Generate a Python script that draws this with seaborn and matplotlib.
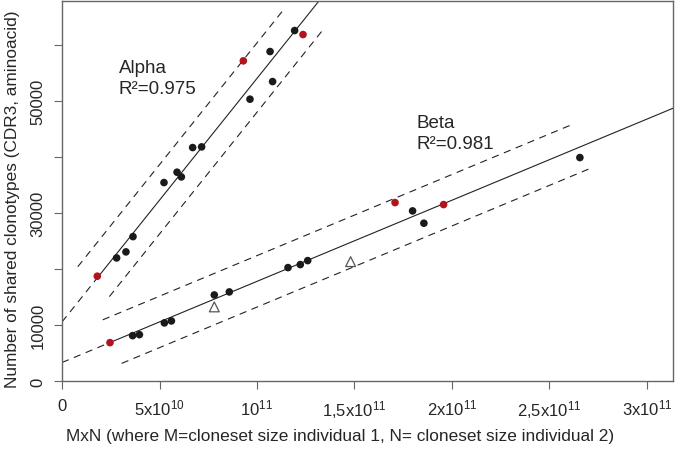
import numpy as np
import pandas as pd
import matplotlib
matplotlib.use("Agg")
import matplotlib.pyplot as plt
import seaborn as sns

# ---- data (x in units of 1e10) ----
alpha_black_x = [11.93, 10.67, 10.80, 9.64, 6.70, 7.16, 5.90, 6.12, 5.23, 3.64, 3.28, 2.80]
alpha_black_y = [62665, 58910, 53540, 50390, 41740, 41860, 37330, 36490, 35480, 25810, 23080, 22000]
alpha_red_x = [9.30, 12.36, 1.81]
alpha_red_y = [57245, 61950, 18730]

beta_black_x = [3.62, 3.97, 5.25, 5.61, 7.81, 8.58, 11.59, 12.22, 12.60, 17.98, 18.56, 26.56]
beta_black_y = [8100, 8280, 10380, 10730, 15380, 15920, 20270, 20810, 21520, 30410, 28210, 39950]
beta_red_x = [2.46, 17.08, 19.57]
beta_red_y = [6850, 31900, 31540]
beta_tri_x = [7.81, 14.80]
beta_tri_y = [13240, 21340]

# fitted lines: intercept, slope (per 1e10), start of solid part
alpha_fit = (10550, 4356.0, 1.81)
beta_fit = (3300, 1451.0, 2.46)
# prediction bands: (x start, x end, offset)
alpha_bands = [(0.81, 11.35, 6350), (2.43, 13.37, -6050)]
beta_bands = [(2.09, 26.22, 4600), (3.06, 27.25, -4600)]

xticks = [0, 5, 10, 15, 20, 25, 30]
xticklabels = ["0", "5x10$^{10}$", "10$^{11}$", "1,5x10$^{11}$", "2x10$^{11}$",
               "2,5x10$^{11}$", "3x10$^{11}$"]
yticks = [0, 10000, 20000, 30000, 40000, 50000, 60000]
yticklabels = ["0", "10000", "", "30000", "", "50000", ""]

pts = pd.concat([
    pd.DataFrame({"x": alpha_black_x + beta_black_x, "y": alpha_black_y + beta_black_y, "kind": "black"}),
    pd.DataFrame({"x": alpha_red_x + beta_red_x, "y": alpha_red_y + beta_red_y, "kind": "red"}),
    pd.DataFrame({"x": beta_tri_x, "y": beta_tri_y, "kind": "tri"}),
], ignore_index=True)
pts["x"] = pts["x"] * 1e10

sns.set_theme(style="white")
plt.rcParams["font.family"] = ["Liberation Sans", "DejaVu Sans"]
plt.rcParams["mathtext.fontset"] = "custom"
plt.rcParams["mathtext.rm"] = "Liberation Sans"
plt.rcParams["mathtext.it"] = "Liberation Sans:italic"
plt.rcParams["mathtext.bf"] = "Liberation Sans:bold"

fig = plt.figure(figsize=(6.77, 4.52), dpi=100)
ax = fig.add_axes([0.0916, 0.155, 0.9029, 0.8412])

dash = (0, (6.5, 5))
XMAX = 31.35

for (b0, b1, xs), bands in [(alpha_fit, alpha_bands), (beta_fit, beta_bands)]:
    xe = np.array([0, xs])
    ax.plot(xe * 1e10, b0 + b1 * xe, color="#222222", lw=0.8, ls=dash)
    xf = np.array([xs, XMAX])
    ax.plot(xf * 1e10, b0 + b1 * xf, color="#222222", lw=0.8)
    for xa, xb, off in bands:
        xx = np.array([xa, xb])
        ax.plot(xx * 1e10, b0 + b1 * xx + off, color="#222222", lw=0.8, ls=dash)

sns.scatterplot(data=pts[pts.kind == "black"], x="x", y="y", ax=ax, color="#1a1a1a",
                s=30, edgecolor="none", zorder=3)
sns.scatterplot(data=pts[pts.kind == "red"], x="x", y="y", ax=ax, color="#b3131c",
                s=30, edgecolor="none", zorder=3)
sns.scatterplot(data=pts[pts.kind == "tri"], x="x", y="y", ax=ax, marker="^",
                facecolor="none", edgecolor="#555555", linewidth=0.9, s=50, zorder=3)

ax.text(2.92e10, 56000, "Alpha", fontsize=13.5, va="center", ha="left")
ax.text(2.92e10, 52240, "R²=0.975", fontsize=13.5, va="center", ha="left")
ax.text(18.19e10, 46150, "Beta", fontsize=13.5, va="center", ha="left")
ax.text(18.19e10, 42400, "R²=0.981", fontsize=13.5, va="center", ha="left")

ax.set_xlim(0, XMAX * 1e10)
ax.set_ylim(0, 68000)
ax.set_xticks([t * 1e10 for t in xticks])
ax.set_xticklabels(xticklabels)
ax.set_yticks(yticks)
ax.set_yticklabels(yticklabels, rotation=90, va="center")
ax.tick_params(axis="both", direction="out", length=6, width=0.8, color="#666666",
               labelsize=12, pad=6, bottom=True, left=True)
for sp in ax.spines.values():
    sp.set_color("#666666")
    sp.set_linewidth(1.0)
ax.set_xlabel("MxN (where M=cloneset size individual 1, N= cloneset size individual 2)",
              fontsize=12.4, va="center")
ax.set_ylabel("Number of shared clonotypes (CDR3, aminoacid)", fontsize=12.4, va="center")
ax.xaxis.set_label_coords(0.455, -0.1447)
ax.yaxis.set_label_coords(-0.0818, 0.4816)

fig.savefig("out.png", dpi=100)
